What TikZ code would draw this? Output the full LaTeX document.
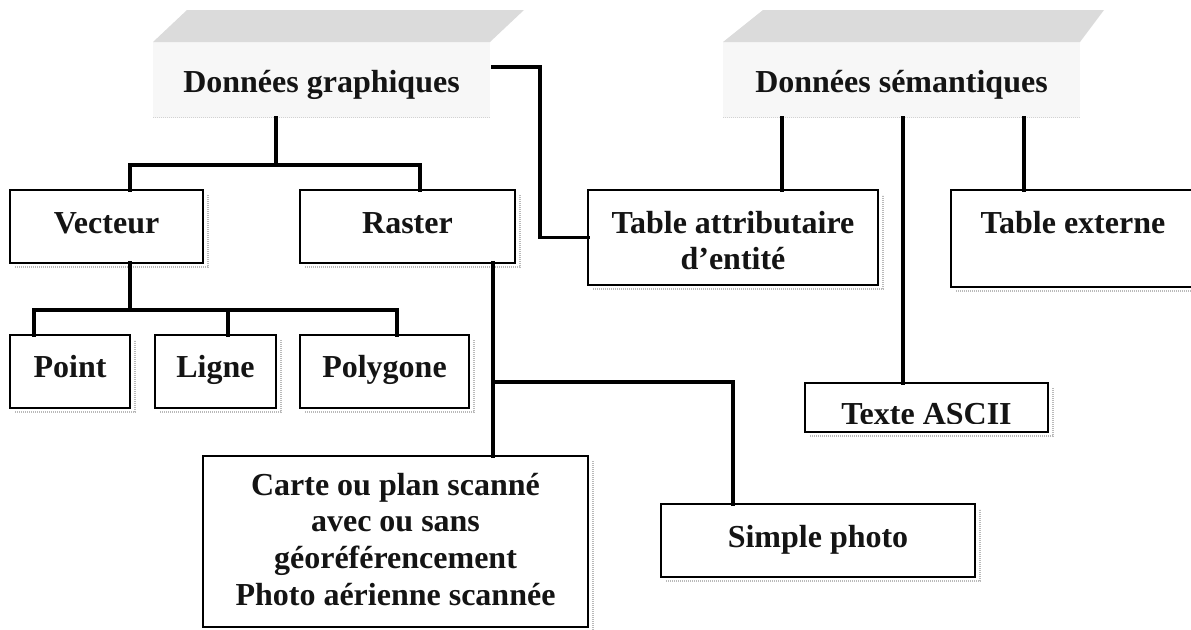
\documentclass[tikz,border=0pt]{standalone}
\usepackage{fontspec}
\setmainfont{Liberation Serif}
\begin{document}
\begin{tikzpicture}[x=1pt,y=-1pt,
  lbl/.style={font=\fontsize{32}{36.8}\selectfont\bfseries, text=black!92},
  box/.style={lbl, draw=black, line width=1.8pt, fill=white, inner sep=0pt, outer sep=0pt, anchor=north west},
  face/.style={lbl, fill=gray!6, inner sep=0pt, outer sep=0pt, anchor=north west},
  band/.style={fill=gray!28},
  conn/.style={line width=3.2pt, draw=black, line cap=rect},
  shade/.style={draw=gray!55, line width=1.6pt, dash pattern=on 1.2pt off 0.8pt}]

\useasboundingbox (0,0) rectangle (1191,629);

\newcommand\boxshade[1]{%
  \draw[shade] ([xshift=5pt,yshift=-4pt]#1.south west) -- ([xshift=5pt,yshift=-4pt]#1.south east)
    -- ([xshift=5pt,yshift=-5pt]#1.north east);}

% ---- headers with slanted tops ----
\node[face, minimum width=337pt, text height=50pt, text depth=26pt] (hg) at (153,42) {Données graphiques};
\fill[band] (hg.north west) -- (hg.north east) -- ++(34,-32) -- ++(-337,0) -- cycle;
\draw[shade, draw=gray!35, line width=1pt] ([yshift=1pt]hg.south west) -- ([yshift=1pt]hg.south east);

\node[face, minimum width=357pt, text height=50pt, text depth=26pt] (hs) at (723,42) {Données sémantiques};
\fill[band] (hs.north west) -- (hs.north east) -- ++(24,-32) -- ++(-341,0) -- cycle;
\draw[shade, draw=gray!35, line width=1pt] ([yshift=1pt]hs.south west) -- ([yshift=1pt]hs.south east);

% ---- boxes ----
\node[box, minimum width=193pt, text height=43pt, text depth=30pt] (vecteur) at (10,190) {Vecteur};
\node[box, minimum width=215pt, text height=43pt, text depth=30pt] (raster) at (300,190) {Raster};
\node[box, minimum width=120pt, text height=42pt, text depth=31pt] (point) at (10,335) {Point};
\node[box, minimum width=121pt, text height=42pt, text depth=31pt] (ligne) at (155,335) {Ligne};
\node[box, minimum width=169pt, text height=42pt, text depth=31pt] (polygone) at (300,335) {Polygone};
\node[box, minimum width=290pt, text height=43pt, text depth=52pt] (tabattr) at (588,190)
  {\begin{tabular}[t]{@{}c@{}}Table attributaire\\ d’entité\end{tabular}};
% open on the right: its right side lies past the edge of the page
\node[box, minimum width=250pt, text height=43pt, text depth=54pt] (tabext) at (951,190) {\hspace*{-6pt}Table externe};
\node[box, minimum width=243pt, minimum height=49pt] (ascii) at (805,383) {};
\begin{scope}
  \clip (ascii.north west) rectangle ([yshift=9pt]ascii.south east);
  \node[lbl, anchor=base, inner sep=0pt] (asciitext) at ([yshift=7.5pt]ascii.south) {Texte ASCII};
\end{scope}
\node[box, minimum width=385pt, text height=39pt, text depth=132pt] (carte) at (203,456)
  {\begin{tabular}[t]{@{}c@{}}Carte ou plan scanné\\ avec ou sans\\ géoréférencement\\ Photo aérienne scannée\end{tabular}};
\node[box, minimum width=314pt, text height=43pt, text depth=30pt] (photo) at (661,504) {Simple photo};

\foreach \b in {vecteur,raster,point,ligne,polygone,tabattr,tabext,ascii,carte,photo}{\boxshade{\b}}

% ---- graphic data tree ----
\coordinate (gbus) at (276,165);
\draw[conn] ([xshift=-45.5pt]hg.south) -- (gbus);
\draw[conn] ([xshift=23.5pt]vecteur.north) |- (gbus) -| ([xshift=12.5pt]raster.north);

\coordinate (vbus) at (130,310);
\draw[conn] ([xshift=23.5pt]vecteur.south) -- (vbus);
\draw[conn] ([xshift=-36pt]point.north) |- (vbus) -| ([xshift=12.5pt]polygone.north);
\draw[conn] ([xshift=12.5pt]ligne.north) -- ([xshift=12.5pt]ligne.north |- vbus);

\draw[conn] ([xshift=85.5pt]raster.south) -- ([xshift=97.5pt]carte.north);
\coordinate (rbranch) at (493,382);
\draw[conn] (rbranch) -| ([xshift=-85pt]photo.north);

% ---- link between graphic data and attribute table ----
\coordinate (hgout) at (540,67);
\draw[conn] ([xshift=3pt,yshift=13pt]hg.east) -- (hgout) |- (tabattr.west);

% ---- semantic data tree ----
\draw[conn] ([xshift=49pt]tabattr.north) coordinate (t1) -- (t1 |- hs.south);
\draw[conn] ([xshift=-23.5pt]ascii.north) coordinate (t2) -- (t2 |- hs.south);
\draw[conn] ([xshift=-52pt]tabext.north) coordinate (t3) -- (t3 |- hs.south);
\end{tikzpicture}
\end{document}
